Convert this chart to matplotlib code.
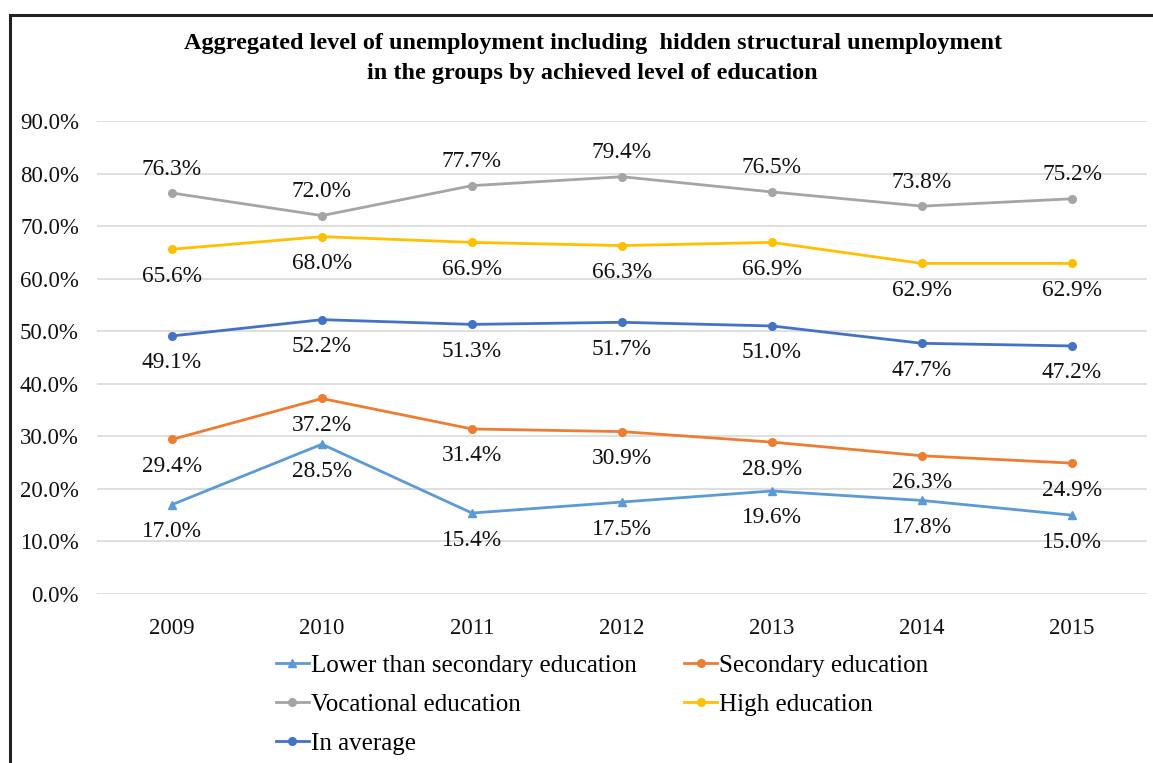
import numpy as np
import matplotlib
matplotlib.use("Agg")
import matplotlib.pyplot as plt
from matplotlib.ticker import FuncFormatter

# ---------------------------------------------------------------------------
# Data
# ---------------------------------------------------------------------------
years = ["2009", "2010", "2011", "2012", "2013", "2014", "2015"]

lower_secondary = [17.0, 28.5, 15.4, 17.5, 19.6, 17.8, 15.0]
secondary = [29.4, 37.2, 31.4, 30.9, 28.9, 26.3, 24.9]
vocational = [76.3, 72.0, 77.7, 79.4, 76.5, 73.8, 75.2]
high = [65.6, 68.0, 66.9, 66.3, 66.9, 62.9, 62.9]
average = [49.1, 52.2, 51.3, 51.7, 51.0, 47.7, 47.2]

series_names = ["Lower than secondary education", "Secondary education",
                "Vocational education", "High education", "In average"]

title = ("Aggregated level of unemployment including  hidden structural unemployment\n"
         "in the groups by achieved level of education")

plt.rcParams['font.family'] = ['Liberation Serif', 'DejaVu Serif']

fig = plt.figure(figsize=(11.53, 7.63), dpi=100)
ax = fig.add_axes([0.0841, 0.2215, 0.9107, 0.6199])

x = np.arange(len(years))

# (values, colour, marker, label above?)
styles = [
    (lower_secondary, "#5B9BD5", "^", False),
    (secondary, "#ED7D31", "o", False),
    (vocational, "#A5A5A5", "o", True),
    (high, "#FFC000", "o", False),
    (average, "#4472C4", "o", False),
]

handles = []
for (vals, color, marker, above), name in zip(styles, series_names):
    h, = ax.plot(x, vals, color=color, lw=2.0, marker=marker, markersize=5.5,
                 label=name, zorder=3)
    handles.append(h)
    for xi, v in zip(x, vals):
        dy = 24 if above else -27
        ax.annotate(f"{v:.1f}%", (xi, v), textcoords="offset pixels",
                    xytext=(0, dy), ha="center", va="center",
                    fontsize=16.8, color="#111111", zorder=4)

ax.set_xlim(-0.5, len(years) - 0.5)
ax.set_ylim(0, 90)
ax.set_yticks(np.arange(0, 91, 10))
ax.yaxis.set_major_formatter(FuncFormatter(lambda v, _: f"{v:.1f}%"))
ax.set_xticks(x)
ax.set_xticklabels(years)
ax.tick_params(axis="both", length=0, labelsize=16.5, colors="#111111")
ax.tick_params(axis="x", pad=17)
ax.tick_params(axis="y", pad=13)
ax.grid(axis="y", color="#D9D9D9", lw=1.2)
ax.set_axisbelow(True)
for s in ax.spines.values():
    s.set_visible(False)

fig.text(0.514, 0.923, title, ha="center", va="center", fontsize=17.5,
         fontweight="bold", linespacing=1.55)

# legend filled row by row: reorder for matplotlib's column-major layout
order = [0, 2, 4, 1, 3]
leg = fig.legend([handles[i] for i in order], [series_names[i] for i in order],
                 loc="upper left", bbox_to_anchor=(0.2395, 0.142), ncol=2,
                 frameon=False, fontsize=18, handlelength=1.3,
                 handletextpad=0.1, columnspacing=1.9, labelspacing=0.66,
                 borderaxespad=0, borderpad=0)

# outer border (top and left sides visible)
fig.add_artist(plt.Line2D([0.0087, 0.0087], [0, 0.980], color="#222222",
                          lw=2.2, transform=fig.transFigure))
fig.add_artist(plt.Line2D([0.0087, 1.0], [0.980, 0.980], color="#222222",
                          lw=2.2, transform=fig.transFigure))

fig.savefig("out.png", dpi=100)
